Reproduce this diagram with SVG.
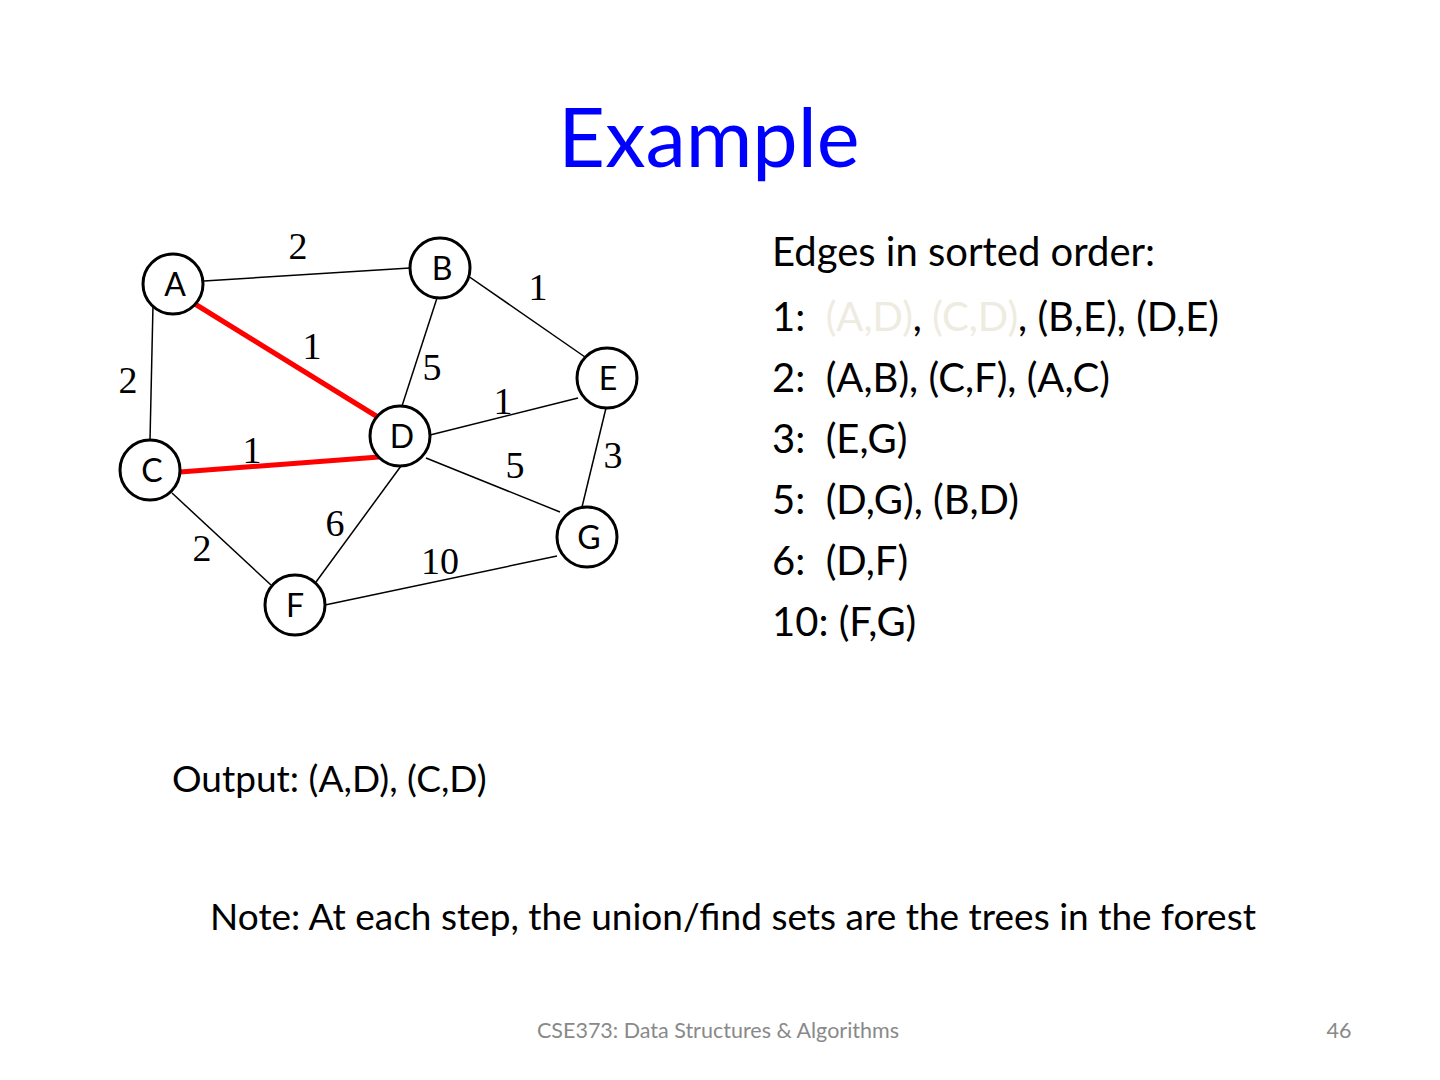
<svg xmlns="http://www.w3.org/2000/svg" width="1440" height="1080" viewBox="0 0 1440 1080">
<style>
.node circle{fill:#fff;stroke:#000;stroke-width:3}
.node text{font-family:Lato,"Open Sans",sans-serif;font-size:32px;text-anchor:middle;fill:#000}
.e{stroke:#000;stroke-width:1.5;fill:none}
.r{stroke:#FF0000;stroke-width:5;fill:none}
.w{font-family:"Liberation Serif",serif;font-size:38px;text-anchor:middle;fill:#000}
.t{font-family:Lato,"Open Sans",sans-serif;font-size:37px;fill:#000;white-space:pre}
.l{font-size:40px}
.g{fill:#EEECE1}
.f{font-family:Lato,"Open Sans",sans-serif;font-size:21.5px;text-anchor:middle;fill:#898989}
</style>
<rect width="1440" height="1080" fill="#fff"/>
<text x="709" y="167" font-family="Lato,'Open Sans',sans-serif" font-size="81" text-anchor="middle" fill="#0000FF">Example</text>
<g id="connectors">
<line class="e" x1="204" y1="281" x2="410" y2="268"/>
<line class="e" x1="153" y1="305" x2="150" y2="440"/>
<line class="e" x1="458" y1="269" x2="585" y2="357"/>
<line class="e" x1="437" y1="298" x2="402" y2="406"/>
<line class="e" x1="578" y1="398" x2="430" y2="435"/>
<line class="e" x1="606" y1="408" x2="582" y2="507"/>
<line class="e" x1="426" y1="458" x2="560" y2="512"/>
<line class="e" x1="401" y1="466" x2="316" y2="582"/>
<line class="e" x1="172" y1="493" x2="271" y2="585"/>
<line class="e" x1="325" y1="605" x2="557" y2="556"/>
<line class="r" x1="195" y1="304" x2="381" y2="419"/>
<line class="r" x1="180" y1="472" x2="379" y2="457"/>
</g>
<g id="weights">
<text class="w" x="298" y="259">2</text>
<text class="w" x="538" y="300">1</text>
<text class="w" x="312" y="359">1</text>
<text class="w" x="432" y="380">5</text>
<text class="w" x="128" y="393">2</text>
<text class="w" x="503" y="414">1</text>
<text class="w" x="252" y="463">1</text>
<text class="w" x="613" y="468">3</text>
<text class="w" x="515" y="478">5</text>
<text class="w" x="335" y="536">6</text>
<text class="w" x="202" y="561">2</text>
<text class="w" x="440" y="574">10</text>
</g>
<g id="node-A" class="node"><circle cx="173" cy="284" r="30"/><text x="175" y="296">A</text></g>
<g id="node-B" class="node"><circle cx="440" cy="268" r="30"/><text x="442" y="280">B</text></g>
<g id="node-E" class="node"><circle cx="607" cy="378" r="30"/><text x="608" y="390">E</text></g>
<g id="node-D" class="node"><circle cx="400" cy="436" r="30"/><text x="402" y="448">D</text></g>
<g id="node-C" class="node"><circle cx="150" cy="470" r="30"/><text x="152" y="482">C</text></g>
<g id="node-G" class="node"><circle cx="587" cy="537" r="30"/><text x="589" y="549">G</text></g>
<g id="node-F" class="node"><circle cx="295" cy="605" r="30"/><text x="295" y="617">F</text></g>
<g id="sorted-list" xml:space="preserve">
<text class="t l" x="772" y="266">Edges in sorted order:</text>
<text class="t l" x="772" y="331">1:  <tspan class="g">(A,D)</tspan>, <tspan class="g">(C,D)</tspan>, (B,E), (D,E)</text>
<text class="t l" x="772" y="392">2:  (A,B), (C,F), (A,C)</text>
<text class="t l" x="772" y="453">3:  (E,G)</text>
<text class="t l" x="772" y="514">5:  (D,G), (B,D)</text>
<text class="t l" x="772" y="575">6:  (D,F)</text>
<text class="t l" x="772" y="636">10: (F,G)</text>
</g>
<text class="t" x="172" y="792">Output: (A,D), (C,D)</text>
<text class="t" x="733" y="930" text-anchor="middle">Note: At each step, the union/find sets are the trees in the forest</text>
<text class="f" x="718" y="1038">CSE373: Data Structures &amp; Algorithms</text>
<text class="f" x="1339" y="1038">46</text>
</svg>
